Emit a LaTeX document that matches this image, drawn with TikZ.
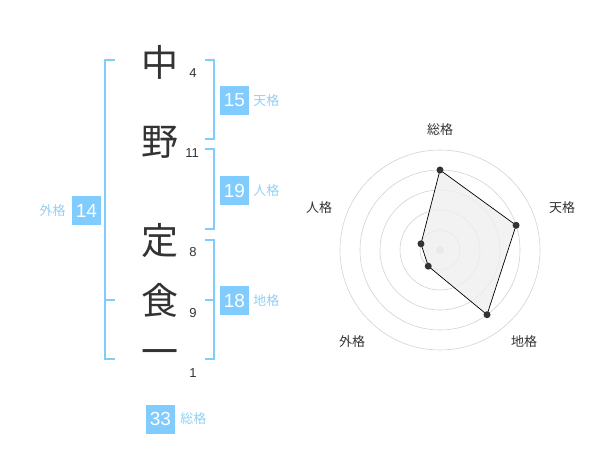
\documentclass[tikz,border=0pt]{standalone}
\usepackage{fontspec}
\setmainfont{Liberation Sans}
\newfontfamily\cjk{Noto Sans CJK JP}
\usepackage{xcolor}
\usepackage{tikz}
\usetikzlibrary{positioning}

\definecolor{kakublue}{HTML}{80CCFF}
\definecolor{kakutext}{HTML}{90D0F5}
\definecolor{inkgray}{HTML}{333333}
\definecolor{ringgray}{HTML}{D2D2D2}
\definecolor{areagray}{HTML}{EFEFEF}

\tikzset{
	kanji/.style={inner sep=0pt, text=inkgray, font=\cjk\fontsize{37}{37}\selectfont},
	strokes/.style={inner sep=0pt, text=inkgray, font=\fontsize{13}{13}\selectfont},
	bracket/.style={kakublue, line width=1.5pt},
	kakubox/.style={fill=kakublue, text=white, minimum size=29pt, inner sep=0pt, font=\fontsize{19}{19}\selectfont},
	kakuname/.style={text=kakutext, inner sep=0pt, font=\cjk\fontsize{13}{13}\selectfont},
	ring/.style={ringgray, line width=0.6pt},
	axislabel/.style={text=inkgray, inner sep=0pt, font=\cjk\fontsize{13}{13}\selectfont},
	dot/.style={circle, fill=inkgray, inner sep=0pt, minimum size=7pt},
}

\begin{document}
\begin{tikzpicture}[x=1pt,y=-1pt]
	\useasboundingbox (0,0) rectangle (600,470);
	
	% name, one character per line
	\node[kanji] (c1) at (160,62) {中};
	\node[kanji] (c2) at (160,142) {野};
	\node[kanji] (c3) at (160,241) {定};
	\node[kanji] (c4) at (160,300) {食};
	\node[kanji] (c5) at (160,358) {一};
	\node[strokes] (s1) at (193,73) {4};
	\node[strokes] (s2) at (192,153) {11};
	\node[strokes] (s3) at (193,252) {8};
	\node[strokes] (s4) at (193,313) {9};
	\node[strokes] (s5) at (193,373) {1};
	
	% brackets
	\draw[bracket] (115,60) -- (105,60) -- (105,359) -- (115,359);
	\draw[bracket] (105,300) -- (115,300);
	\draw[bracket] (205,60) -- (214,60) -- (214,139) -- (205,139);
	\draw[bracket] (205,149) -- (214,149) -- (214,229) -- (205,229);
	\draw[bracket] (205,240) -- (214,240) -- (214,359) -- (205,359);
	\draw[bracket] (205,300) -- (214,300);
	
	% values
	\node[kakubox] (ten) at (234.5,100.5) {15};
	\node[kakuname,right=4pt of ten] (tenname) {天格};
	\node[kakubox] (jin) at (234.5,190.5) {19};
	\node[kakuname,right=4pt of jin] (jinname) {人格};
	\node[kakubox] (chi) at (234.5,300.5) {18};
	\node[kakuname,right=4pt of chi] (chiname) {地格};
	\node[kakubox] (gai) at (86.5,210.5) {14};
	\node[kakuname,left=6pt of gai] (gainame) {外格};
	\node[kakubox] (sou) at (160.5,419) {33};
	\node[kakuname,right=5pt of sou] (souname) {総格};
	
	% radar chart
	\begin{scope}[shift={(440,250)},y=1pt]
		\coordinate (o) at (0,0);
		\foreach \r in {20,40,60,80,100}
			\draw[ring] (o) circle (\r);
		\fill[ringgray] (o) circle (4);
		\foreach \ang/\r/\n in {90/80/sou,18/80/ten,-54/80/chi,-126/20/gai,162/20/jin}
			\coordinate (p\n) at (\ang:\r);
		\filldraw[fill=areagray,fill opacity=0.8,draw=black,line width=0.7pt,line join=round]
			(psou) -- (pten) -- (pchi) -- (pgai) -- (pjin) -- cycle;
		\foreach \n in {sou,ten,chi,gai,jin}
			\node[dot] (d\n) at (p\n) {};
		\node[axislabel] (lsou) at (0,120) {総格};
		\node[axislabel] (lten) at (122,42) {天格};
		\node[axislabel] (lchi) at (84,-92) {地格};
		\node[axislabel] (lgai) at (-88,-92) {外格};
		\node[axislabel] (ljin) at (-121,42) {人格};
	\end{scope}
\end{tikzpicture}
\end{document}
